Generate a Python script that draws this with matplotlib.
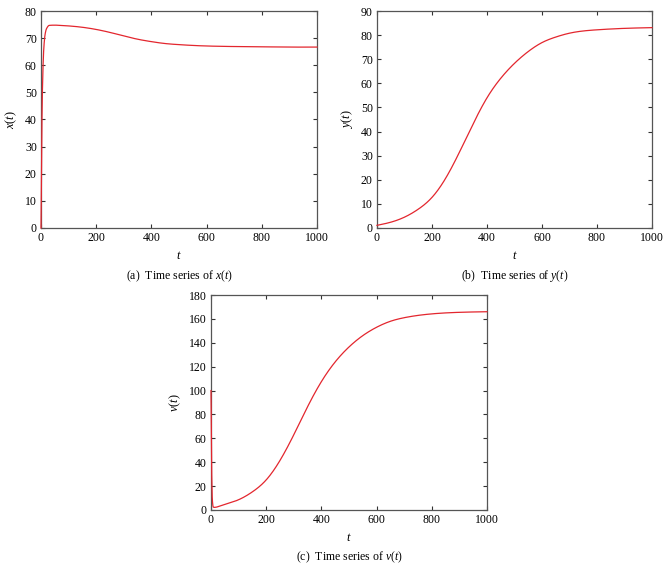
import numpy as np
import matplotlib
matplotlib.use("Agg")
import matplotlib.pyplot as plt

plt.rcParams['font.family'] = ['Liberation Serif', 'DejaVu Serif']
plt.rcParams['mathtext.fontset'] = 'custom'
plt.rcParams['mathtext.rm'] = 'Liberation Serif'
plt.rcParams['mathtext.it'] = 'Liberation Serif:italic'

# ---- data ----
t_x = [0, 2, 5, 10, 15, 20, 30, 50, 100, 150, 200, 250, 300, 350, 400, 450, 500, 550, 600, 700, 800, 900, 1000]
x_vals = [0, 25, 50, 66, 71.5, 73.5, 74.7, 74.8, 74.5, 74.0, 73.2, 72.1, 70.8, 69.6, 68.7, 68.0, 67.6, 67.3, 67.1, 66.9, 66.8, 66.7, 66.7]

t_y = [0, 50, 100, 150, 200, 250, 300, 350, 400, 450, 500, 550, 600, 650, 700, 800, 900, 1000]
y_vals = [1.1, 2.4, 4.5, 7.8, 12.7, 20.7, 31.5, 43.3, 54.0, 62.1, 68.3, 73.2, 76.9, 79.2, 80.8, 82.2, 82.8, 83.1]

t_v = [0, 2, 5, 8, 12, 20, 50, 100, 150, 200, 250, 300, 350, 400, 450, 500, 550, 600, 650, 700, 800, 900, 1000]
v_vals = [100, 40, 8, 2.5, 2.2, 2.4, 4.6, 8.6, 15.2, 25.2, 41.5, 63.0, 86.5, 107.5, 124.0, 136.5, 146.0, 153.0, 158.0, 161.0, 164.2, 165.5, 166.0]

# index from which the smooth part of each curve starts (before: fast transient)
smooth_from = [7, 0, 5]

x_ticks = [0, 200, 400, 600, 800, 1000]
panels = [
    dict(t=t_x, v=x_vals, ylim=(0, 80), yticks=list(range(0, 81, 10)), ylabel='$x(t)$',
         caption='(a)  Time series of $x(t)$', pos=(41, 11, 317, 228)),
    dict(t=t_y, v=y_vals, ylim=(0, 90), yticks=list(range(0, 91, 10)), ylabel='$y(t)$',
         caption='(b)  Time series of $y(t)$', pos=(377, 11, 652, 228)),
    dict(t=t_v, v=v_vals, ylim=(0, 180), yticks=list(range(0, 181, 20)), ylabel='$v(t)$',
         caption='(c)  Time series of $v(t)$', pos=(211, 295, 487, 510)),
]

W, H = 669, 570
fig = plt.figure(figsize=(W / 100, H / 100), dpi=100)


def pchip(tt, vv, npts=30):
    tt = np.asarray(tt, float); vv = np.asarray(vv, float)
    n = len(tt)
    h = np.diff(tt); d = np.diff(vv) / h
    m = np.zeros(n)
    for k in range(1, n - 1):
        if d[k - 1] * d[k] > 0:
            w1 = 2 * h[k] + h[k - 1]; w2 = h[k] + 2 * h[k - 1]
            m[k] = (w1 + w2) / (w1 / d[k - 1] + w2 / d[k])
    m[0] = d[0]; m[-1] = d[-1]
    ot, ov = [], []
    for k in range(n - 1):
        s = np.linspace(0, 1, npts, endpoint=False)
        h00 = 2 * s**3 - 3 * s**2 + 1; h10 = s**3 - 2 * s**2 + s
        h01 = -2 * s**3 + 3 * s**2; h11 = s**3 - s**2
        ot.append(tt[k] + s * h[k])
        ov.append(h00 * vv[k] + h10 * h[k] * m[k] + h01 * vv[k + 1] + h11 * h[k] * m[k + 1])
    return np.concatenate(ot), np.concatenate(ov)


def natural_spline(tt, vv, npts=40):
    tt = np.asarray(tt, float); vv = np.asarray(vv, float)
    n = len(tt)
    h = np.diff(tt)
    A = np.zeros((n, n)); rhs = np.zeros(n)
    A[0, 0] = 1; A[-1, -1] = 1
    for i in range(1, n - 1):
        A[i, i - 1] = h[i - 1]; A[i, i] = 2 * (h[i - 1] + h[i]); A[i, i + 1] = h[i]
        rhs[i] = 6 * ((vv[i + 1] - vv[i]) / h[i] - (vv[i] - vv[i - 1]) / h[i - 1])
    M = np.linalg.solve(A, rhs)
    ot, ov = [], []
    for k in range(n - 1):
        x = np.linspace(tt[k], tt[k + 1], npts, endpoint=False)
        a = (tt[k + 1] - x) / h[k]; b = (x - tt[k]) / h[k]
        y = (a * vv[k] + b * vv[k + 1]
             + ((a**3 - a) * M[k] + (b**3 - b) * M[k + 1]) * h[k]**2 / 6)
        ot.append(x); ov.append(y)
    ot.append([tt[-1]]); ov.append([vv[-1]])
    return np.concatenate(ot), np.concatenate(ov)


for p, sf in zip(panels, smooth_from):
    l, t, r, b = p['pos']
    ax = fig.add_axes([l / W, 1 - b / H, (r - l) / W, (b - t) / H])
    tt, vv = p['t'], p['v']
    parts_t, parts_v = [], []
    if sf > 0:
        a1, b1 = pchip(tt[:sf + 1], vv[:sf + 1])
        parts_t.append(a1); parts_v.append(b1)
    a2, b2 = natural_spline(tt[sf:], vv[sf:])
    parts_t.append(a2); parts_v.append(b2)
    ts = np.concatenate(parts_t); vs = np.concatenate(parts_v)
    ax.plot(ts, vs, color='#e3262e', lw=0.9, zorder=3, clip_on=False)
    ax.set_xlim(0, 1000)
    ax.set_ylim(*p['ylim'])
    ax.set_xticks(x_ticks)
    ax.set_yticks(p['yticks'])
    ax.tick_params(direction='in', top=True, right=True, length=3, width=0.8,
                   labelsize=8.5, color='#333333', pad=3)
    for s in ax.spines.values():
        s.set_color('#555555'); s.set_linewidth(0.9)
    ax.set_xlabel('$t$', fontsize=9, labelpad=4)
    ax.set_ylabel(p['ylabel'], fontsize=9, labelpad=4)
    ax.text(0.5, -0.185, p['caption'], transform=ax.transAxes, ha='center', va='top', fontsize=8.5)

fig.savefig('out.png', dpi=100, facecolor='white')
